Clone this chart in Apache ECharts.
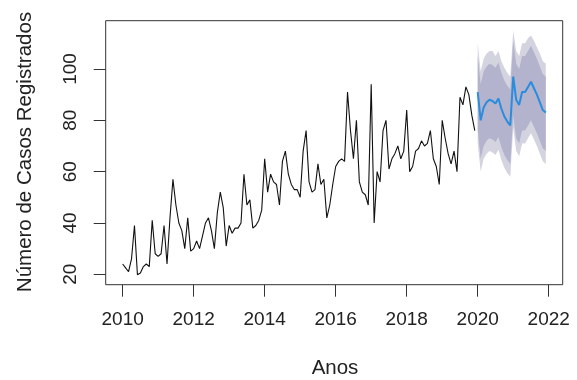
<!DOCTYPE html>
<html>
<head>
<meta charset="utf-8">
<script src="https://cdn.jsdelivr.net/npm/echarts@6/dist/echarts.min.js"></script>
<style>
  html, body { margin: 0; padding: 0; background: #fff; }
  #chart { width: 577px; height: 380px; }
</style>
</head>
<body>
<div id="chart"></div>
<script>
// Monthly registered cases, Jan 2010 - Dec 2019
const startYear = 2010;
const observed = [
  24, 22.5, 21, 26, 39, 19.8, 20.5, 23, 24, 23, 41, 28,      // 2010
  27, 28, 39, 24, 42, 57, 47, 40, 37, 30, 42, 29,          // 2011
  30, 33, 30, 35, 40, 42, 37, 30, 44, 52, 46, 31,          // 2012
  39, 36, 38, 38, 40, 59, 47, 49, 38, 39, 41, 45,          // 2013
  65, 52, 59, 56, 55, 47, 64, 68, 59, 55, 53, 53,          // 2014
  50, 68, 76, 56, 52, 53, 63, 55, 57, 42, 47, 55,          // 2015
  62, 64, 65, 64, 91, 76, 65, 80, 56, 52, 51, 47,          // 2016
  94, 40, 60, 56, 76, 80, 61, 65, 67, 70, 65, 68,          // 2017
  84, 60, 62, 68, 69, 72, 70, 71, 76, 65, 62, 55,          // 2018
  80, 73, 67, 63, 68, 60, 89, 86, 93, 90, 82, 76           // 2019
];

// Point forecast and prediction intervals, Jan 2020 - Dec 2021
const forecastStart = 2020;
const forecast = [91, 80, 85, 87, 88, 87.5, 86.5, 88.5, 84.5, 81.5, 79.5, 78,
                  97, 88, 86, 91, 91, 93, 95, 92.5, 90, 87, 84, 83];
const lower95  = [71, 60, 65, 67, 68, 67.5, 66.5, 68.5, 64.5, 61.5, 59.5, 58,
                  77, 68, 66, 71, 71, 73, 75, 72.5, 70, 67, 64, 63];
const lower80  = [76, 65, 70, 72, 73, 72.5, 71.5, 73.5, 69.5, 66.5, 64.5, 63,
                  82, 73, 71, 76, 76, 78, 80, 77.5, 75, 72, 69, 68];
const upper80  = [105, 94, 99, 101, 102, 101.5, 100.5, 102.5, 98.5, 95.5, 93.5, 92,
                  111, 102, 100, 105, 105, 107, 109, 106.5, 104, 101, 98, 97];
const upper95  = [110, 99, 104, 106, 107, 107, 105, 107, 103, 100.5, 98.5, 97,
                  115, 107, 105, 110, 110, 112, 113, 111, 108.5, 106, 103, 102];

// Axis ticks
const yearTicks = [2010, 2012, 2014, 2016, 2018, 2020, 2022];
const valueTicks = [20, 40, 60, 80, 100];

const t = (y0, i) => y0 + i / 12;
const obsData = observed.map((v, i) => [t(startYear, i), v]);
const fcData = forecast.map((v, i) => [t(forecastStart, i), v]);

const FONT = 'Liberation Sans, Arial, sans-serif';
const TXT = '#222';
const AX = '#333';
const light = '#D4D4E0';
const dark = '#B3B3CE';

// Interval band drawn as one polygon: upper edge forward, lower edge back
function bandSeries(name, lo, hi, color, z) {
  const times = lo.map((_, i) => t(forecastStart, i));
  return {
    name, type: 'custom', silent: true, z,
    data: [[times[0], lo[0]]],
    renderItem: (params, api) => {
      const pts = [];
      for (let i = 0; i < hi.length; i++) pts.push(api.coord([times[i], hi[i]]));
      for (let i = lo.length - 1; i >= 0; i--) pts.push(api.coord([times[i], lo[i]]));
      return { type: 'polygon', shape: { points: pts }, style: { fill: color } };
    }
  };
}

const chart = echarts.init(document.getElementById('chart'), null, { renderer: 'canvas' });
chart.setOption({
  animation: false,
  backgroundColor: '#fff',
  grid: {
    left: 105.7, right: 14.3, top: 20.7, bottom: 95.3,
    show: true, borderColor: AX, borderWidth: 1, backgroundColor: 'transparent',
    containLabel: false, outerBoundsMode: 'none'
  },
  xAxis: {
    type: 'value', min: 2009.523, max: 2022.393,
    splitLine: { show: false },
    axisLine: { show: false },
    axisTick: { show: true, length: 12, inside: false, customValues: yearTicks,
                lineStyle: { color: AX, width: 1 } },
    axisLabel: { customValues: yearTicks, formatter: v => String(v),
                 fontFamily: FONT, fontSize: 19, color: TXT, margin: 26 }
  },
  yAxis: {
    type: 'value', min: 15.95, max: 118.8,
    splitLine: { show: false },
    axisLine: { show: false },
    axisTick: { show: true, length: 12, inside: false, customValues: valueTicks,
                lineStyle: { color: AX, width: 1 } },
    axisLabel: { customValues: valueTicks, rotate: 90, formatter: v => String(v),
                 fontFamily: FONT, fontSize: 19, color: TXT, margin: 25 }
  },
  graphic: [
    { type: 'text', x: 335, y: 368.5,
      style: { text: 'Anos', font: '20.5px ' + FONT, fill: TXT,
               textAlign: 'center', textVerticalAlign: 'middle' } },
    { type: 'text', x: 25, y: 152, rotation: Math.PI / 2,
      style: { text: 'Número de Casos Registrados', font: '20.5px ' + FONT, fill: TXT,
               textAlign: 'center', textVerticalAlign: 'middle' } }
  ],
  series: [
    bandSeries('95%', lower95, upper95, light, 1),
    bandSeries('80%', lower80, upper80, dark, 2),
    { name: 'Observado', type: 'line', data: obsData, symbol: 'none',
      lineStyle: { color: '#111', width: 1.1 }, z: 3 },
    { name: 'Previsão', type: 'line', data: fcData, symbol: 'none',
      lineStyle: { color: '#2A8CDC', width: 2 }, z: 4 }
  ]
});
</script>
</body>
</html>
